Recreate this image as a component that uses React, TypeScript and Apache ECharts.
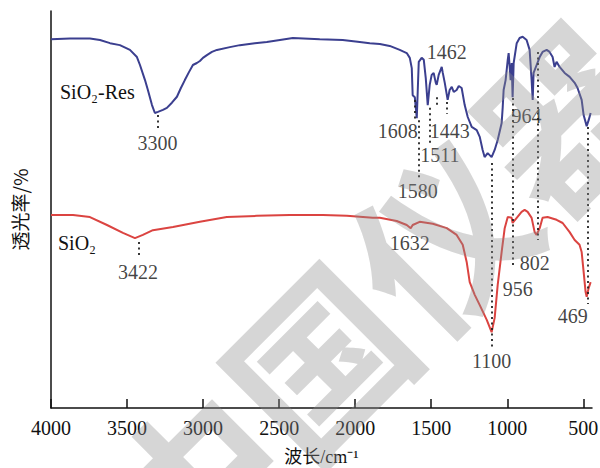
import React, { useEffect, useRef } from "react";
import * as echarts from "echarts";

// SiO2-Res spectrum (wavenumber / cm-1, transmittance a.u.)
const blueWave = [4000,3875,3744,3678,3612,3547,3481,3435,3415,3382,3363,3336,3317,3297,3264,3238,3205,3172,3146,3120,3093,3067,3041,3021,3001,2975,2942,2909,2824,2758,2660,2581,2495,2410,2233,2082,1970,1904,1838,1773,1707,1661,1641,1628,1622,1608,1595,1589,1582,1563,1549,1536,1523,1510,1497,1484,1470,1464,1451,1431,1425,1411,1392,1379,1365,1352,1333,1319,1300,1280,1260,1234,1201,1181,1162,1149,1129,1103,1083,1063,1037,1030,1024,1011,1004,997,991,978,971,965,958,938,919,899,873,853,840,833,827,807,787,768,741,722,702,689,676,656,623,590,557,538,511,498,478,465,452];
const blueT = [92.9,93.1,93.1,92.7,91.9,91.4,90.2,88.4,86.4,82.6,80.1,76.3,74.3,74.6,75.1,75.6,76.9,78.4,80.6,82.6,84.6,86.4,86.9,87.4,88.2,88.9,89.7,90.2,90.9,91.4,91.9,92.2,92.7,93.2,92.9,92.7,92.2,91.9,91.7,91.2,90.2,89.4,88.2,85.6,78.8,78.3,73.0,79.6,87.2,88.2,87.7,83.1,76.3,81.4,83.9,84.4,81.9,81.4,83.9,85.9,84.6,81.9,77.6,80.1,80.9,79.6,80.1,81.1,80.6,76.3,73.3,70.8,70.0,68.3,65.0,63.2,64.2,63.2,65.0,67.5,71.8,75.8,80.1,82.6,85.1,87.7,89.4,82.6,86.9,78.3,86.9,91.9,93.2,93.5,92.7,90.2,82.6,77.6,84.4,86.4,88.4,89.7,90.2,89.7,88.4,85.9,87.2,85.9,84.4,83.4,81.9,80.6,77.6,73.8,71.0,72.5,74.3];

// SiO2 spectrum
const redWave = [4000,3941,3855,3744,3632,3527,3448,3396,3330,3198,3021,2844,2647,2430,2213,2055,1885,1838,1727,1661,1635,1622,1576,1490,1398,1333,1293,1267,1247,1214,1181,1135,1103,1083,1063,1037,1017,997,971,965,938,906,886,866,840,820,807,787,768,735,676,636,590,557,525,511,498,485,478,465,452];
const redT = [48.6,48.6,48.6,48.1,46.1,44.1,42.8,43.6,44.8,45.6,46.9,48.1,48.4,48.6,48.6,48.4,47.9,47.9,47.1,46.1,45.3,46.1,46.9,46.4,45.3,43.6,41.1,36.8,31.7,28.5,25.9,22.2,19.1,22.7,31.0,39.3,45.3,48.1,47.9,46.6,47.9,49.4,49.9,49.4,47.9,44.3,43.6,45.3,47.9,48.1,47.4,46.6,44.3,42.3,41.1,39.3,34.3,29.2,28.0,30.2,31.7];

// peak labels
const peakLabels = ["3300","3422","1632","1608","1580","1511","1462","1443","1100","964","956","802","469"];
const labelWave = [3300,3428,1641,1720,1589,1444,1398,1379,1103,873,932,820,570];
const labelT = [66.8,34.3,41.6,69.8,54.7,63.7,89.7,69.8,11.8,73.6,30.0,36.5,23.2];

// dotted guide lines
const guideWave = [3300,3422,1608,1580,1511,1462,1395,1100,964,802,469];
const guideTop = [73.8,41.8,77.6,72.5,75.6,78.3,77.1,61.7,78.1,89.7,70.8];
const guideBottom = [70.0,37.8,72.5,57.9,66.2,75.6,74.1,14.6,36.0,42.3,26.2];

const xTicks = [500,1000,1500,2000,2500,3000,3500,4000];

const SERIF = '"Liberation Serif","Times New Roman","DejaVu Serif",serif';

export default function App() {
  const ref = useRef<HTMLDivElement>(null);
  useEffect(() => {
    document.body.style.margin = "0";
    if (!ref.current) return;
    const chart = echarts.init(ref.current, null, { renderer: "svg" });
    const blueData = blueWave.map((w, i) => [w, blueT[i]]);
    const redData = redWave.map((w, i) => [w, redT[i]]);
    chart.setOption({
      animation: false,
      backgroundColor: "#fff",
      grid: { left: 51, right: 8, top: 11, bottom: 60, containLabel: false, outerBoundsMode: "none" },
      xAxis: {
        type: "value",
        inverse: true,
        min: 443,
        max: 4000,
        axisLine: { show: true, lineStyle: { color: "#111", width: 1.5 } },
        axisTick: { show: true, inside: true, length: 9, customValues: xTicks, lineStyle: { color: "#111", width: 1.5 } },
        axisLabel: {
          customValues: xTicks,
          margin: 10,
          fontSize: 20,
          color: "#111",
          fontFamily: SERIF,
          formatter: (v: number) => String(v),
        },
        splitLine: { show: false },
        name: "波长/cm⁻¹",
        nameLocation: "middle",
        nameGap: 40,
        nameTextStyle: { fontSize: 18, color: "#111", fontFamily: '"Liberation Serif","Noto Sans CJK SC",serif' },
      },
      yAxis: {
        type: "value",
        min: 0,
        max: 100,
        axisLine: { show: true, lineStyle: { color: "#111", width: 1.5 } },
        axisTick: { show: false },
        axisLabel: { show: false },
        splitLine: { show: false },
        name: "透光率/%",
        nameLocation: "middle",
        nameRotate: 90,
        nameGap: 22,
        nameTextStyle: { fontSize: 19, color: "#111", fontFamily: '"Noto Sans CJK SC","Liberation Serif",serif' },
      },
      series: [
        {
          name: "SiO₂-Res",
          type: "line",
          data: blueData,
          showSymbol: false,
          symbol: "none",
          lineStyle: { color: "#3b3f8f", width: 2 },
          z: 3,
        },
        {
          name: "SiO₂",
          type: "line",
          data: redData,
          showSymbol: false,
          symbol: "none",
          lineStyle: { color: "#db4441", width: 2 },
          z: 3,
          markLine: {
            silent: true,
            symbol: ["none", "none"],
            label: { show: false },
            lineStyle: { type: [2, 3.5], color: "#222", width: 1.8 },
            data: guideWave.map((w, i) => [
              { coord: [w, guideTop[i]] },
              { coord: [w, guideBottom[i]] },
            ]),
          },
        },
        {
          type: "scatter",
          symbolSize: 1,
          itemStyle: { color: "transparent" },
          silent: true,
          data: labelWave.map((w, i) => ({ value: [w, labelT[i]], name: peakLabels[i] })),
          label: {
            show: true,
            position: "inside",
            formatter: "{b}",
            fontSize: 20,
            color: "#111",
            fontFamily: SERIF,
          },
          labelLayout: { hideOverlap: false },
          z: 4,
        },
      ],
      graphic: [
        {
          type: "text",
          left: 60,
          top: 82,
          style: { text: "SiO₂-Res", font: '20px "Liberation Serif","DejaVu Serif",serif', fill: "#111" },
          z: 5,
        },
        {
          type: "text",
          left: 58,
          top: 233,
          style: { text: "SiO₂", font: '20px "Liberation Serif","DejaVu Serif",serif', fill: "#111" },
          z: 5,
        },
        {
          type: "text",
          x: 375,
          y: 295,
          rotation: Math.PI / 4,
          silent: true,
          z: 100,
          style: {
            text: "中国仪器",
            font: 'bold 174px "Noto Sans CJK SC"',
            fill: "rgba(140,140,140,0.36)",
            align: "center",
            verticalAlign: "middle",
            textAlign: "center",
            textVerticalAlign: "middle",
          },
        },
      ],
    });
    return () => chart.dispose();
  }, []);
  return <div ref={ref} style={{ width: 600, height: 468 }} />;
}
